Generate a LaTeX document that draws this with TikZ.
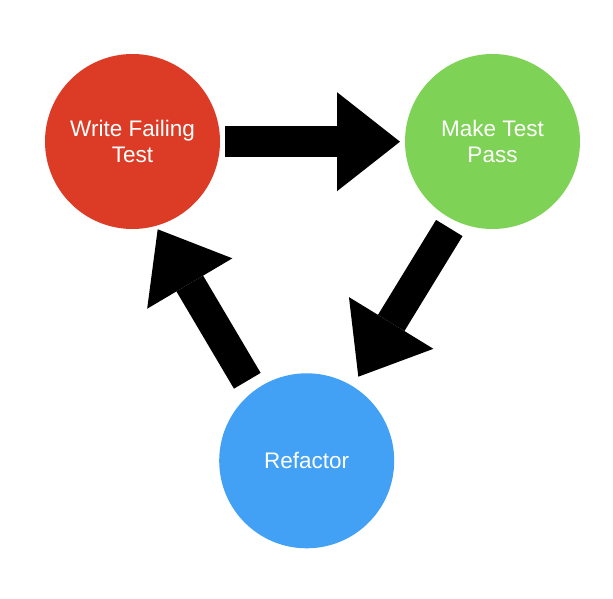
\documentclass[tikz,border=0pt]{standalone}
\usepackage{fontspec}
\setmainfont{Liberation Sans}
\usetikzlibrary{arrows.meta}
\definecolor{tddred}{RGB}{220,60,38}
\definecolor{tddgreen}{RGB}{126,210,86}
\definecolor{tddblue}{RGB}{66,160,245}
\tikzset{
  phase/.style={circle, minimum size=175pt, inner sep=0pt, text=white,
    align=center, font=\fontsize{22.5pt}{26pt}\selectfont},
  bigarrow/.style={line width=31pt, line cap=butt,
    -{Triangle[length=63pt, width=99pt, line width=0pt]}}
}
\begin{document}
\begin{tikzpicture}[x=1pt, y=-1pt]
\useasboundingbox (0,0) rectangle (613,599);
\node[phase, fill=tddred] (write) at (132.5,141.5) {Write Failing\\Test};
\node[phase, fill=tddgreen] (pass) at (492.5,141.5) {Make Test\\Pass};
\node[phase, fill=tddblue] (refactor) at (306.7,460.8) {Refactor};
\coordinate (a1s) at (225,141.7);
\coordinate (a1e) at (400,141.7);
\coordinate (a2s) at (449.3,228);
\coordinate (a2e) at (358.3,376.7);
\coordinate (a3s) at (247.3,380.8);
\coordinate (a3e) at (157.7,229.3);
\draw[bigarrow] (a1s) -- (a1e);
\draw[bigarrow] (a2s) -- (a2e);
\draw[bigarrow] (a3s) -- (a3e);
\end{tikzpicture}
\end{document}
